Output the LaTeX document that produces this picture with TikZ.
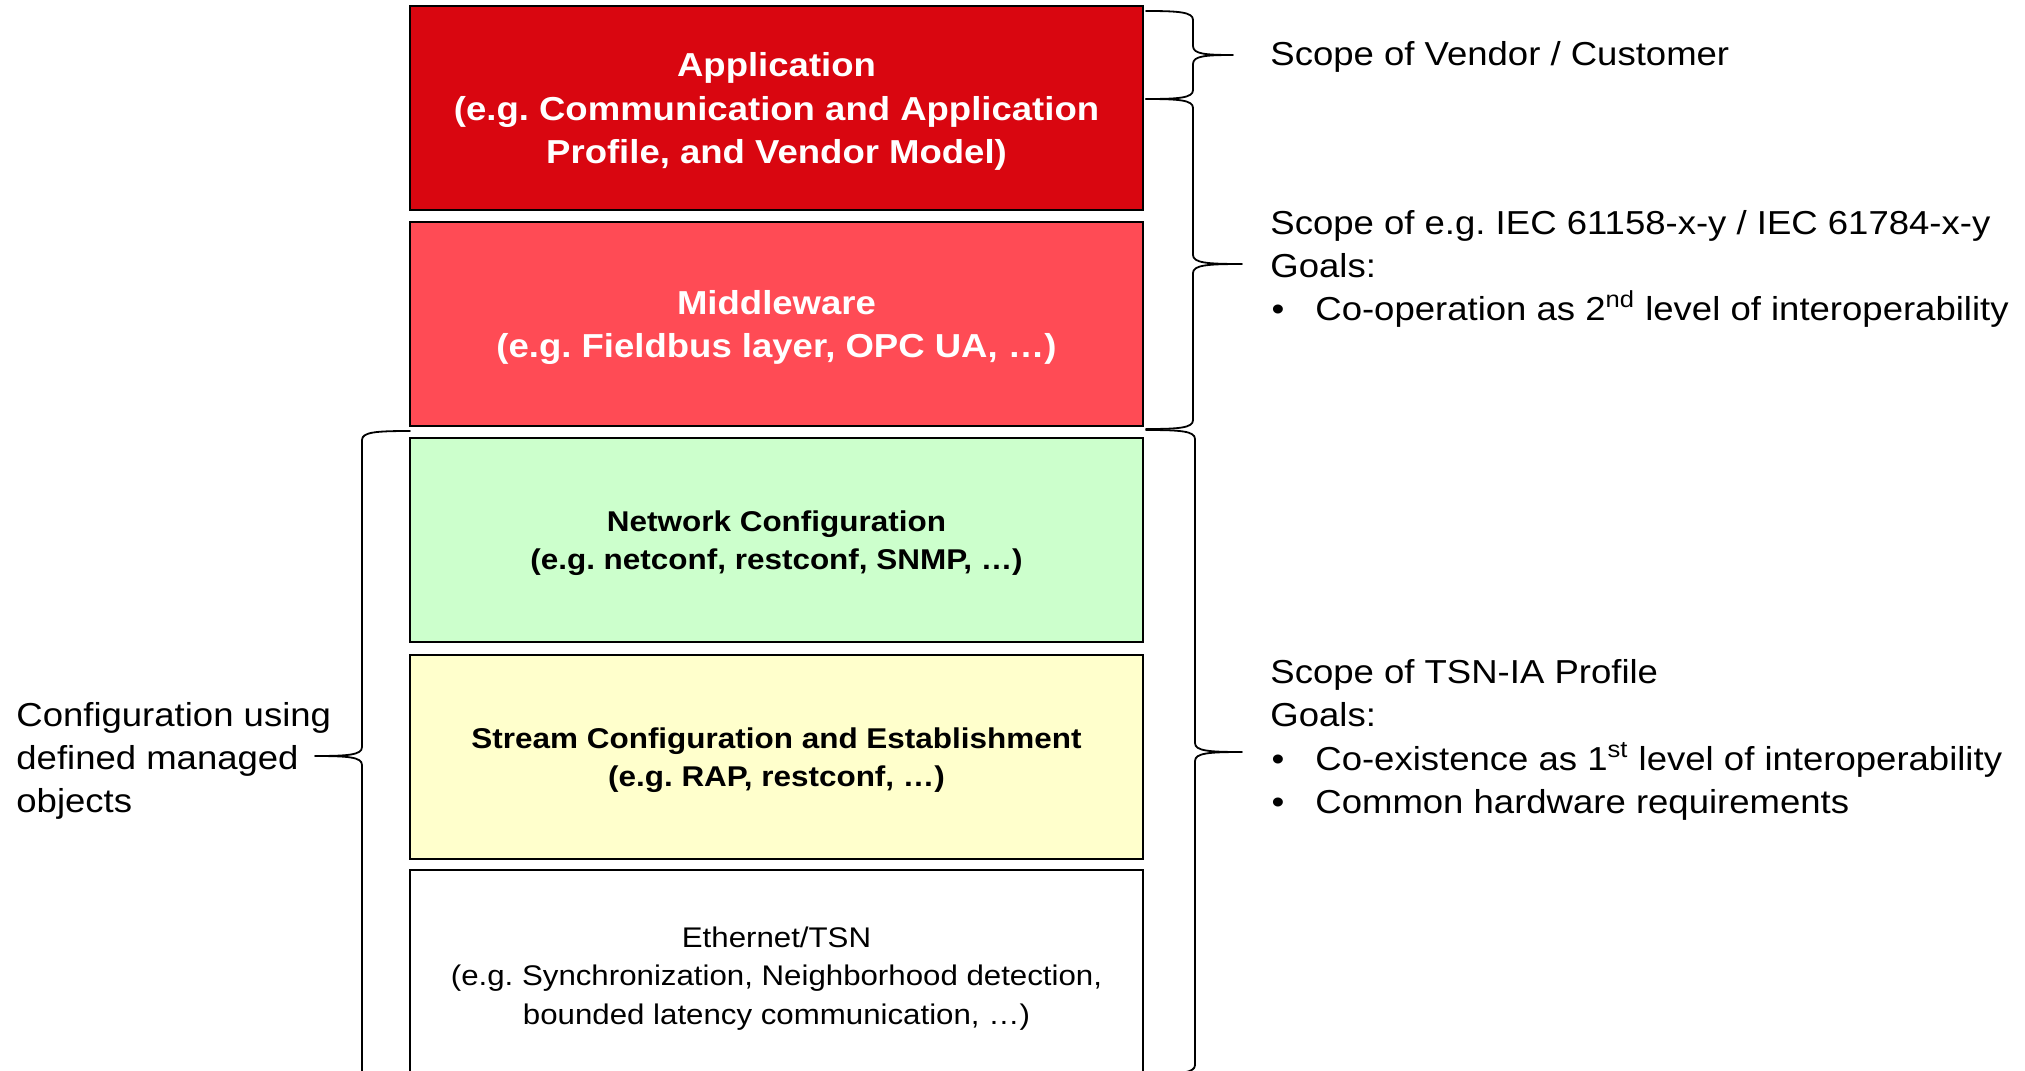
\documentclass[tikz,border=0pt]{standalone}
\usepackage{fontspec}
\setmainfont[FakeStretch=1.1]{Liberation Sans}

\definecolor{appred}{RGB}{217,6,16}
\definecolor{mwred}{RGB}{255,75,85}
\definecolor{ncgreen}{RGB}{204,255,204}
\definecolor{scyellow}{RGB}{255,255,204}

% curly brace: #1 end x, #2 spine x, #3 tip x, #4 top y, #5 bottom y
\newcommand\layerbrace[5]{%
  \draw[bracestyle]
    (#1,#4) .. controls ({#2+0.3*(#1-#2)},#4) and (#2,{#4+1}) .. (#2,{#4+9})
    -- (#2,{(#4+#5)/2-9})
    .. controls (#2,{(#4+#5)/2-1}) and ({#2+0.3*(#3-#2)},{(#4+#5)/2}) .. (#3,{(#4+#5)/2})
    .. controls ({#2+0.3*(#3-#2)},{(#4+#5)/2}) and (#2,{(#4+#5)/2+1}) .. (#2,{(#4+#5)/2+9})
    -- (#2,{#5-9})
    .. controls (#2,{#5-1}) and ({#2+0.3*(#1-#2)},#5) .. (#1,#5);}

\tikzset{
  layer/.style={draw=black, line width=0.9pt, minimum width=366.5pt,
    minimum height=102pt, align=center, inner sep=0pt, text depth=0pt},
  bigbold/.style={font=\fontsize{16.6}{21.75}\selectfont\bfseries, text=white},
  smallbold/.style={font=\fontsize{14.3}{19.25}\selectfont\bfseries},
  smallplain/.style={font=\fontsize{14.2}{19.25}\selectfont},
  note/.style={font=\fontsize{16.6}{21.75}\selectfont, anchor=base west, inner sep=0pt},
  bracestyle/.style={line width=0.9pt, line cap=round, line join=round},
}

\begin{document}
\frenchspacing
\begin{tikzpicture}[x=0.5pt, y=-0.5pt]
  \useasboundingbox (0,0) rectangle (2025,1071);
  \fill[white] (0,0) rectangle (2025,1071);
  \clip (0,0) rectangle (2025,1071);

  % protocol layers
  \node[layer, fill=appred, bigbold] (app) at (776.5,108)
    {Application\\(e.g. Communication and Application\\Profile, and Vendor Model)};
  \node[layer, fill=mwred, bigbold] (mw) at (776.5,324)
    {Middleware\\(e.g. Fieldbus layer, OPC UA, …)};
  \node[layer, fill=ncgreen, smallbold] (nc) at (776.5,540)
    {Network Configuration\\(e.g. netconf, restconf, SNMP, …)};
  \node[layer, fill=scyellow, smallbold] (sc) at (776.5,757)
    {Stream Configuration and Establishment\\(e.g. RAP, restconf, …)};
  \node[layer, fill=white, smallplain] (eth) at (776.5,972)
    {\rule{0pt}{13.5pt}Ethernet/TSN\\(e.g. Synchronization, Neighborhood detection,\\bounded latency communication, …)};

  % scope braces
  \layerbrace{1146}{1193}{1233}{11}{99}
  \layerbrace{1146}{1193}{1242}{99}{429}
  \layerbrace{1146}{1195}{1242}{430}{1074}
  \layerbrace{410}{362}{315}{431}{1081}

  % scope descriptions
  \node[note] (vendor) at (1270,65.5) {Scope of Vendor / Customer};

  \node[note] (iec) at (1270,234) {Scope of e.g. IEC 61158-x-y / IEC 61784-x-y};
  \node[note] (iecgoals) at (1270,277) {Goals:};
  \node[note, anchor=base] (iecdot) at (1278,320) {•};
  \node[note] (iecgoal) at (1315,320) {Co-operation as 2\textsuperscript{nd} level of interoperability};

  \node[note] (tsn) at (1270,683) {Scope of TSN-IA Profile};
  \node[note] (tsngoals) at (1270,726.5) {Goals:};
  \node[note, anchor=base] (tsndota) at (1278,770) {•};
  \node[note] (tsngoala) at (1315,770) {Co-existence as 1\textsuperscript{st} level of interoperability};
  \node[note, anchor=base] (tsndotb) at (1278,813) {•};
  \node[note] (tsngoalb) at (1315,813) {Common hardware requirements};

  \node[note] (cfga) at (16,726) {Configuration using};
  \node[note] (cfgb) at (16,769) {defined managed};
  \node[note] (cfgc) at (16,812) {objects};
\end{tikzpicture}
\end{document}
